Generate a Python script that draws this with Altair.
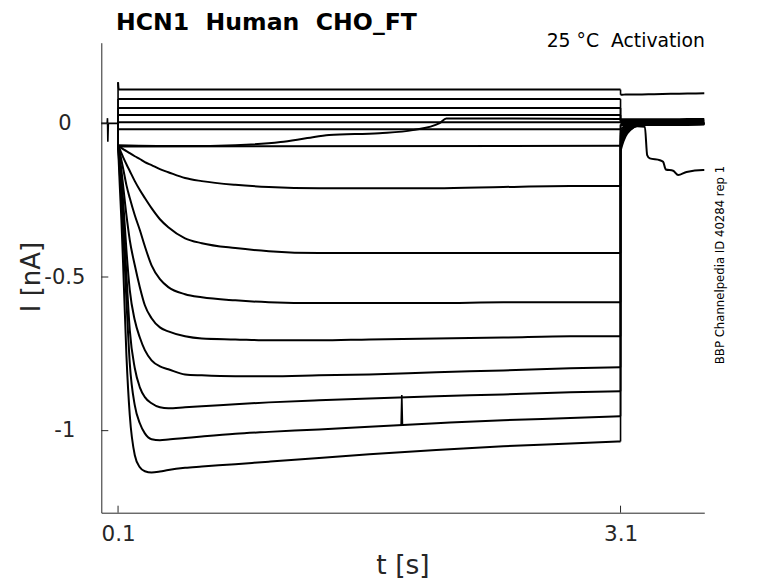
import altair as alt
import pandas as pd

# ---------------- data ----------------
# pre-step baseline (shared by all sweeps)
PRE_T = [0.0, 0.035, 0.037, 0.039, 0.042, 0.1]
PRE_I = [0.0, 0.0, 0.017, -0.060, 0.0, 0.0]

# step (0.1 .. 3.1 s), flat / near-flat sweeps
A1_T = [0.1, 0.104, 3.1]
A1_I = [0.134, 0.110, 0.110]
A2_T = [0.1, 3.1]
A2_I = [0.079, 0.079]
A3_T = [0.1, 3.1]
A3_I = [0.050, 0.050]
A4_T = [0.1, 3.1]
A4_I = [0.027, 0.027]
A5_T = [0.1, 3.1]
A5_I = [0.004, 0.004]
A6_T = [0.1, 3.1]
A6_I = [-0.019, -0.019]
A7_T = [0.1, 0.5, 0.8, 1.07, 1.23, 1.36, 1.66, 1.86, 2.02, 2.06, 2.3, 3.1]
A7_I = [-0.071, -0.074, -0.071, -0.061, -0.048, -0.038, -0.032, -0.022, 0.001, 0.016, 0.016, 0.014]
A8_T = [0.1, 3.1]
A8_I = [-0.075, -0.073]

# step, activating sweeps (shared time samples)
STEP_T = [0.1, 0.105, 0.11, 0.12, 0.13, 0.15, 0.17, 0.2, 0.23, 0.26, 0.3, 0.35,
          0.4, 0.5, 0.6, 0.8, 1.0, 1.3, 1.6, 2.0, 2.4, 2.8, 3.1]
B1 = [-0.071, -0.074, -0.077, -0.080, -0.084, -0.090, -0.097, -0.107, -0.116, -0.126, -0.136, -0.149,
      -0.159, -0.178, -0.188, -0.200, -0.207, -0.211, -0.211, -0.211, -0.207, -0.204, -0.204]
B2 = [-0.071, -0.077, -0.084, -0.097, -0.110, -0.133, -0.155, -0.188, -0.217, -0.243, -0.276, -0.312,
      -0.338, -0.374, -0.390, -0.406, -0.416, -0.422, -0.422, -0.422, -0.422, -0.422, -0.422]
B3 = [-0.071, -0.080, -0.093, -0.120, -0.146, -0.201, -0.243, -0.299, -0.347, -0.400, -0.462, -0.507,
      -0.533, -0.556, -0.566, -0.576, -0.582, -0.585, -0.585, -0.585, -0.582, -0.582, -0.582]
B4 = [-0.071, -0.087, -0.110, -0.152, -0.201, -0.299, -0.380, -0.462, -0.533, -0.592, -0.634, -0.664,
      -0.677, -0.693, -0.700, -0.703, -0.706, -0.706, -0.703, -0.700, -0.697, -0.693, -0.693]
B5 = [-0.071, -0.093, -0.126, -0.185, -0.250, -0.413, -0.543, -0.641, -0.697, -0.738, -0.771, -0.791,
      -0.800, -0.817, -0.820, -0.823, -0.823, -0.820, -0.817, -0.810, -0.804, -0.797, -0.794]
B6 = [-0.071, -0.103, -0.142, -0.217, -0.299, -0.494, -0.673, -0.797, -0.859, -0.891, -0.911, -0.924,
      -0.927, -0.924, -0.921, -0.914, -0.908, -0.901, -0.895, -0.888, -0.882, -0.875, -0.872]
B7 = [-0.071, -0.113, -0.159, -0.250, -0.347, -0.576, -0.781, -0.918, -0.976, -1.009, -1.028, -1.031,
      -1.029, -1.024, -1.019, -1.010, -1.004, -0.996, -0.987, -0.976, -0.966, -0.959, -0.953]
B8 = [-0.071, -0.136, -0.200, -0.315, -0.455, -0.755, -0.950, -1.080, -1.119, -1.132, -1.136, -1.133,
      -1.128, -1.121, -1.117, -1.109, -1.101, -1.089, -1.077, -1.063, -1.051, -1.042, -1.035]

# small artefact on one sweep
SPIKE_T = [1.790, 1.794, 1.798]
SPIKE_I = [-0.982, -0.884, -0.982]

# tails (after 3.1 s)
TAIL_T = [3.1, 3.11, 3.13, 3.16, 3.2, 3.3, 3.4, 3.5, 3.6]
A1_TAIL = [0.093, 0.093, 0.094, 0.094, 0.094, 0.095, 0.096, 0.097, 0.098]
A2_TAIL = [0.013, 0.013, 0.013, 0.013, 0.013, 0.013, 0.013, 0.014, 0.014]
A3_TAIL = [0.009, 0.009, 0.009, 0.009, 0.009, 0.009, 0.009, 0.010, 0.010]
A4_TAIL = [0.005, 0.005, 0.005, 0.005, 0.005, 0.005, 0.006, 0.006, 0.006]
A5_TAIL = [0.001, 0.001, 0.001, 0.001, 0.001, 0.001, 0.002, 0.002, 0.002]
A6_TAIL = [-0.003, -0.003, -0.003, -0.003, -0.003, -0.003, -0.002, -0.002, -0.002]
A7_TAIL = [0.007, 0.007, 0.007, 0.007, 0.007, 0.007, 0.008, 0.008, 0.008]
A8_TAIL = [-0.006, -0.006, -0.006, -0.006, -0.006, -0.005, -0.005, -0.005, -0.004]
B1_TAIL = [-0.020, -0.015, -0.008, -0.004, -0.002, 0.000, 0.000, 0.001, 0.001]
B2_TAIL = [-0.030, -0.022, -0.012, -0.006, -0.003, -0.001, 0.000, 0.000, 0.000]
B3_TAIL = [-0.040, -0.030, -0.017, -0.008, -0.004, -0.002, -0.001, 0.000, 0.000]
B4_TAIL = [-0.050, -0.038, -0.022, -0.011, -0.005, -0.002, -0.001, -0.001, 0.000]
B5_TAIL = [-0.060, -0.046, -0.027, -0.014, -0.006, -0.003, -0.002, -0.001, -0.001]
B6_TAIL = [-0.070, -0.054, -0.032, -0.016, -0.007, -0.003, -0.002, -0.002, -0.001]
B7_TAIL = [-0.080, -0.062, -0.037, -0.019, -0.008, -0.004, -0.003, -0.002, -0.002]
B8_TAIL_T = [3.1, 3.11, 3.13, 3.16, 3.2, 3.245, 3.259, 3.275, 3.335, 3.354, 3.37,
             3.414, 3.444, 3.494, 3.593, 3.6]
B8_TAIL = [-0.090, -0.070, -0.042, -0.021, -0.009, -0.011, -0.103, -0.114, -0.120, -0.125, -0.150,
           -0.154, -0.168, -0.158, -0.152, -0.152]

X_TICKS = [0.1, 3.1]
Y_TICKS = [-1, -0.5, 0]
X_DOMAIN = [0.0, 3.6]
Y_DOMAIN = [-1.267, 0.2625]

NB = "\u00a0"
TITLE = "HCN1" + NB + NB + "Human" + NB + NB + "CHO_FT"
SUBTITLE = "25 °C" + NB + NB + "Activation"
SIDE = "BBP Channelpedia ID 40284 rep 1"
XLABEL = "t [s]"
YLABEL = "I [nA]"

# ---------------- build tables ----------------
sweeps = [
    ("A1", A1_T, A1_I, TAIL_T, A1_TAIL),
    ("A2", A2_T, A2_I, TAIL_T, A2_TAIL),
    ("A3", A3_T, A3_I, TAIL_T, A3_TAIL),
    ("A4", A4_T, A4_I, TAIL_T, A4_TAIL),
    ("A5", A5_T, A5_I, TAIL_T, A5_TAIL),
    ("A6", A6_T, A6_I, TAIL_T, A6_TAIL),
    ("A7", A7_T, A7_I, TAIL_T, A7_TAIL),
    ("A8", A8_T, A8_I, TAIL_T, A8_TAIL),
    ("B1", STEP_T, B1, TAIL_T, B1_TAIL),
    ("B2", STEP_T, B2, TAIL_T, B2_TAIL),
    ("B3", STEP_T, B3, TAIL_T, B3_TAIL),
    ("B4", STEP_T, B4, TAIL_T, B4_TAIL),
    ("B5", STEP_T, B5, TAIL_T, B5_TAIL),
    ("B6", STEP_T, B6, TAIL_T, B6_TAIL),
    ("B7", STEP_T, B7, TAIL_T, B7_TAIL),
    ("B8", STEP_T, B8, B8_TAIL_T, B8_TAIL),
]

smooth_rows = []   # step and tail segments (smooth interpolation)
jump_rows = []     # instantaneous voltage-step jumps and artefacts (straight)
for name, st, si, tt, ti in sweeps:
    for k, (t, i) in enumerate(zip(st, si)):
        smooth_rows.append({"seg": name + "_s", "t": t, "I": i, "k": k})
    for k, (t, i) in enumerate(zip(tt, ti)):
        smooth_rows.append({"seg": name + "_t", "t": t, "I": i, "k": k})
    jump_rows += [
        {"seg": name + "_j0", "t": PRE_T[-1], "I": PRE_I[-1], "k": 0},
        {"seg": name + "_j0", "t": st[0], "I": si[0], "k": 1},
        {"seg": name + "_j1", "t": st[-1], "I": si[-1], "k": 0},
        {"seg": name + "_j1", "t": tt[0], "I": ti[0], "k": 1},
    ]
for k, (t, i) in enumerate(zip(PRE_T, PRE_I)):
    jump_rows.append({"seg": "pre", "t": t, "I": i, "k": k})
for k, (t, i) in enumerate(zip(SPIKE_T, SPIKE_I)):
    jump_rows.append({"seg": "spike", "t": t, "I": i, "k": k})
df_s = pd.DataFrame(smooth_rows)
df_j = pd.DataFrame(jump_rows)

W, H = 603, 470
FONT = "DejaVu Sans"
AX = "#262626"
LW = 2.0

xs = alt.Scale(domain=X_DOMAIN, nice=False, zero=False)
ys = alt.Scale(domain=Y_DOMAIN, nice=False, zero=False)

x_axis = alt.Axis(
    values=X_TICKS, title=None, grid=False, ticks=False, tickSize=0,
    labelFontSize=21.5, labelFont=FONT, labelColor=AX, labelPadding=11,
    domainColor=AX, domainWidth=1, labelFlush=False, labelOverlap=False)
y_axis = alt.Axis(
    values=Y_TICKS, title=None, grid=False, ticks=False, tickSize=0,
    labelFontSize=21, labelFont=FONT, labelColor=AX, labelPadding=37,
    labelAlign="center", labelBaseline="middle",
    labelExpr="replace(format(datum.value, ''), '\u2212', '-')",
    domainColor=AX, domainWidth=1, labelFlush=False, labelOverlap=False)

smooth = alt.Chart(df_s).mark_line(color="black", strokeWidth=LW, interpolate="monotone").encode(
    x=alt.X("t:Q", scale=xs, axis=x_axis),
    y=alt.Y("I:Q", scale=ys, axis=y_axis),
    detail="seg:N",
    order="k:Q",
)
jumps = alt.Chart(df_j).mark_line(color="black", strokeWidth=1.6).encode(
    x=alt.X("t:Q", scale=xs),
    y=alt.Y("I:Q", scale=ys),
    detail="seg:N",
    order="k:Q",
)

xt = alt.Chart(pd.DataFrame({"v": X_TICKS})).mark_rule(color=AX, strokeWidth=1).encode(
    x=alt.X("v:Q", scale=xs), y=alt.value(H - 7), y2=alt.value(H))
yt = alt.Chart(pd.DataFrame({"v": Y_TICKS})).mark_rule(color=AX, strokeWidth=1).encode(
    y=alt.Y("v:Q", scale=ys), x=alt.value(0), x2=alt.value(7))

one = pd.DataFrame({"a": [0]})
title = alt.Chart(one).mark_text(text=TITLE, font=FONT, fontSize=23.6, fontWeight="bold",
                                 align="left", baseline="alphabetic", color="black").encode(
    x=alt.value(14.7), y=alt.value(-12.6))
sub = alt.Chart(one).mark_text(text=SUBTITLE, font=FONT, fontSize=18.8,
                               align="right", baseline="alphabetic", color="black").encode(
    x=alt.value(603.7), y=alt.value(4.5))
side = alt.Chart(one).mark_text(text=SIDE, font=FONT, fontSize=11.7, angle=270,
                                align="center", baseline="alphabetic", color="black").encode(
    x=alt.value(622.5), y=alt.value(222.3))
xl = alt.Chart(one).mark_text(text=XLABEL, font=FONT, fontSize=26.5,
                              align="center", baseline="alphabetic", color=AX).encode(
    x=alt.value(301.7), y=alt.value(531.3))
yl = alt.Chart(one).mark_text(text=YLABEL, font=FONT, fontSize=26, angle=270,
                              align="center", baseline="alphabetic", color=AX).encode(
    x=alt.value(-61.3), y=alt.value(234.3))

chart = alt.layer(smooth, jumps, xt, yt, title, sub, side, xl, yl).properties(
    width=W, height=H,
    autosize=alt.AutoSizeParams(type="none"),
    padding={"left": 93.3, "top": 34.7, "right": 40, "bottom": 68},
    background="white",
).configure_view(stroke=None)

chart.save("out.html", embed_options={"renderer": "svg", "actions": False})
